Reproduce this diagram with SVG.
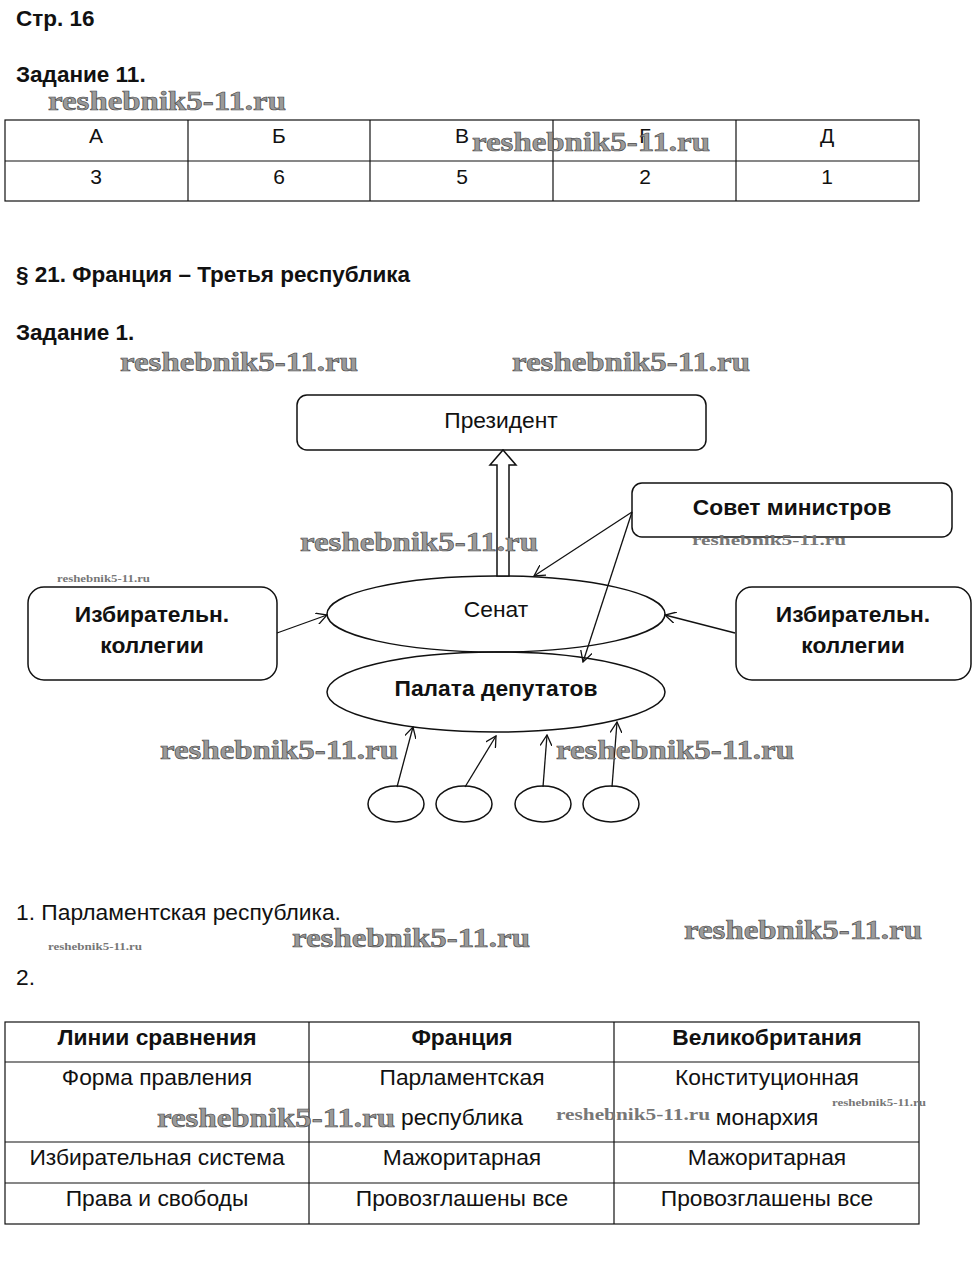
<svg xmlns="http://www.w3.org/2000/svg" width="979" height="1268" viewBox="0 0 979 1268">
<defs>
<style>
.h{font-family:"Liberation Sans",Arial,sans-serif;font-weight:bold;font-size:22.5px;fill:#111}
.t{font-family:"Liberation Sans",Arial,sans-serif;font-size:22.8px;fill:#111}
.t1{font-family:"Liberation Sans",Arial,sans-serif;font-size:21px;fill:#111}
.tb{font-family:"Liberation Sans",Arial,sans-serif;font-size:22.8px;font-weight:bold;fill:#111}
.c{text-anchor:middle}
.wm{font-family:"Liberation Serif","Times New Roman",serif;font-weight:bold;fill:#9a9a9a;stroke:#444;stroke-width:0.6}
.ws{font-family:"Liberation Serif","Times New Roman",serif;font-weight:bold;fill:#777}
.grid{stroke:#111;stroke-width:1.2;fill:none}
.shape{fill:#fff;stroke:#111;stroke-width:1.5}
.ell{fill:none;stroke:#111;stroke-width:1.5}
.con{stroke:#111;stroke-width:1.3;fill:none}
</style>
<marker id="oa" viewBox="0 0 12 12" refX="11" refY="6" markerWidth="12" markerHeight="12" markerUnits="userSpaceOnUse" orient="auto">
<path d="M0,0 L11,6 L0,12" fill="none" stroke="#111" stroke-width="1.3"/>
</marker>
</defs>
<rect width="979" height="1268" fill="#fff"/>

<text class="h" x="16" y="26">Стр. 16</text>
<text class="h" x="16" y="82">Задание 11.</text>

<g id="table1">
<rect class="grid" x="5" y="120" width="914" height="81"/>
<line class="grid" x1="5" y1="161" x2="919" y2="161"/>
<line class="grid" x1="188" y1="120" x2="188" y2="201"/>
<line class="grid" x1="370" y1="120" x2="370" y2="201"/>
<line class="grid" x1="553" y1="120" x2="553" y2="201"/>
<line class="grid" x1="736" y1="120" x2="736" y2="201"/>
<text class="t1 c" x="96" y="143">А</text>
<text class="t1 c" x="279" y="143">Б</text>
<text class="t1 c" x="462" y="143">В</text>
<text class="t1 c" x="645" y="143">Г</text>
<text class="t1 c" x="827" y="143">Д</text>
<text class="t1 c" x="96" y="184">3</text>
<text class="t1 c" x="279" y="184">6</text>
<text class="t1 c" x="462" y="184">5</text>
<text class="t1 c" x="645" y="184">2</text>
<text class="t1 c" x="827" y="184">1</text>
</g>

<text class="h" x="16" y="282">§ 21. Франция – Третья республика</text>
<text class="h" x="16" y="340">Задание 1.</text>

<g id="president">
<rect class="shape" x="297" y="395" width="409" height="55" rx="10"/>
<text class="t c" x="501" y="428">Президент</text>
</g>
<g id="sovet">
<rect class="shape" x="632" y="483" width="320" height="54" rx="10"/>
<text class="tb c" x="792" y="515">Совет министров</text>
</g>
<g id="senat">
<ellipse class="shape" cx="496" cy="614" rx="169" ry="38"/>
<text class="t c" x="496" y="617">Сенат</text>
</g>
<g id="palata">
<ellipse class="ell" cx="496" cy="692" rx="169" ry="40"/>
<text class="tb c" x="496" y="696">Палата депутатов</text>
</g>
<g id="izbir-left">
<rect class="shape" x="28" y="587" width="249" height="93" rx="16"/>
<text class="tb c" x="152" y="622">Избирательн.</text>
<text class="tb c" x="152" y="653">коллегии</text>
</g>
<g id="izbir-right">
<rect class="shape" x="736" y="587" width="235" height="93" rx="16"/>
<text class="tb c" x="853" y="622">Избирательн.</text>
<text class="tb c" x="853" y="653">коллегии</text>
</g>
<g id="voters">
<ellipse class="shape" cx="396" cy="804" rx="28" ry="18"/>
<ellipse class="shape" cx="464" cy="804" rx="28" ry="18"/>
<ellipse class="shape" cx="543" cy="804" rx="28" ry="18"/>
<ellipse class="shape" cx="611" cy="804" rx="28" ry="18"/>
</g>

<g id="connectors">
<polygon class="shape" points="497,576 497,465 490,465 503,450 516,465 509,465 509,576"/>
<line class="con" x1="632" y1="512" x2="534" y2="576" marker-end="url(#oa)"/>
<line class="con" x1="632" y1="512" x2="583" y2="662" marker-end="url(#oa)"/>
<line class="con" x1="277" y1="633" x2="327" y2="615" marker-end="url(#oa)"/>
<line class="con" x1="735" y1="633" x2="665" y2="615" marker-end="url(#oa)"/>
<line class="con" x1="397" y1="787" x2="413" y2="727" marker-end="url(#oa)"/>
<line class="con" x1="465" y1="787" x2="496" y2="736" marker-end="url(#oa)"/>
<line class="con" x1="543" y1="787" x2="547" y2="735" marker-end="url(#oa)"/>
<line class="con" x1="612" y1="787" x2="617" y2="722" marker-end="url(#oa)"/>
</g>

<text class="t" x="16" y="920">1. Парламентская республика.</text>
<text class="t" x="16" y="985">2.</text>

<g id="table2">
<rect class="grid" x="5" y="1022" width="914" height="202"/>
<line class="grid" x1="5" y1="1062" x2="919" y2="1062"/>
<line class="grid" x1="5" y1="1142" x2="919" y2="1142"/>
<line class="grid" x1="5" y1="1183" x2="919" y2="1183"/>
<line class="grid" x1="309" y1="1022" x2="309" y2="1224"/>
<line class="grid" x1="614" y1="1022" x2="614" y2="1224"/>
<text class="tb c" x="157" y="1045">Линии сравнения</text>
<text class="tb c" x="462" y="1045">Франция</text>
<text class="tb c" x="767" y="1045">Великобритания</text>
<text class="t c" x="157" y="1085">Форма правления</text>
<text class="t c" x="462" y="1085">Парламентская</text>
<text class="t c" x="462" y="1125">республика</text>
<text class="t c" x="767" y="1085">Конституционная</text>
<text class="t c" x="767" y="1125">монархия</text>
<text class="t c" x="157" y="1165">Избирательная система</text>
<text class="t c" x="462" y="1165">Мажоритарная</text>
<text class="t c" x="767" y="1165">Мажоритарная</text>
<text class="t c" x="157" y="1206">Права и свободы</text>
<text class="t c" x="462" y="1206">Провозглашены все</text>
<text class="t c" x="767" y="1206">Провозглашены все</text>
</g>

<g id="watermarks">
<text class="wm" x="48" y="110" font-size="28" textLength="238" lengthAdjust="spacingAndGlyphs">reshebnik5-11.ru</text>
<text class="wm" x="472" y="151" font-size="28" textLength="238" lengthAdjust="spacingAndGlyphs">reshebnik5-11.ru</text>
<text class="wm" x="120" y="371" font-size="28" textLength="238" lengthAdjust="spacingAndGlyphs">reshebnik5-11.ru</text>
<text class="wm" x="512" y="371" font-size="28" textLength="238" lengthAdjust="spacingAndGlyphs">reshebnik5-11.ru</text>
<text class="wm" x="300" y="551" font-size="28" textLength="238" lengthAdjust="spacingAndGlyphs">reshebnik5-11.ru</text>
<text class="ws" x="692" y="545" font-size="15" textLength="154" lengthAdjust="spacingAndGlyphs">reshebnik5-11.ru</text>
<text class="ws" x="57" y="582" font-size="10" textLength="93" lengthAdjust="spacingAndGlyphs">reshebnik5-11.ru</text>
<text class="wm" x="160" y="759" font-size="28" textLength="238" lengthAdjust="spacingAndGlyphs">reshebnik5-11.ru</text>
<text class="wm" x="556" y="759" font-size="28" textLength="238" lengthAdjust="spacingAndGlyphs">reshebnik5-11.ru</text>
<text class="ws" x="48" y="950" font-size="10" textLength="94" lengthAdjust="spacingAndGlyphs">reshebnik5-11.ru</text>
<text class="wm" x="292" y="947" font-size="28" textLength="238" lengthAdjust="spacingAndGlyphs">reshebnik5-11.ru</text>
<text class="wm" x="684" y="939" font-size="28" textLength="238" lengthAdjust="spacingAndGlyphs">reshebnik5-11.ru</text>
<text class="wm" x="157" y="1127" font-size="28" textLength="238" lengthAdjust="spacingAndGlyphs">reshebnik5-11.ru</text>
<text class="ws" x="556" y="1120" font-size="16" textLength="154" lengthAdjust="spacingAndGlyphs">reshebnik5-11.ru</text>
<text class="ws" x="832" y="1106" font-size="10" textLength="94" lengthAdjust="spacingAndGlyphs">reshebnik5-11.ru</text>
</g>
</svg>
